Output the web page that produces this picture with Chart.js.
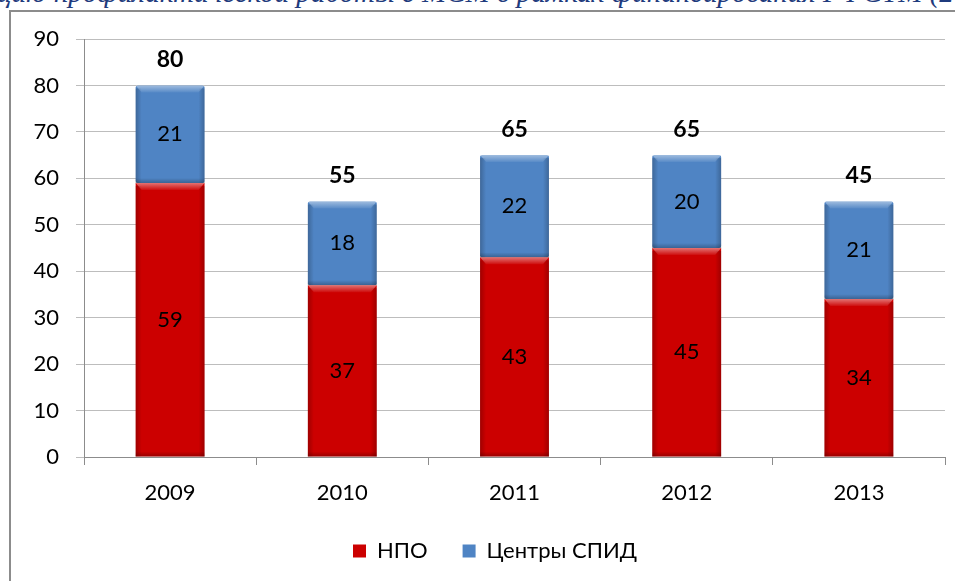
<!DOCTYPE html>
<html>
<head>
<meta charset="utf-8">
<script src="https://cdn.jsdelivr.net/npm/chart.js@4.4.1/dist/chart.umd.min.js"></script>
<style>
  html, body { margin: 0; padding: 0; background: #fff; overflow: hidden; }
  #wrap { position: relative; width: 955px; height: 581px; overflow: hidden; }
  #frame { position: absolute; left: 9px; top: 10px; width: 980px; height: 620px;
           border-left: 2px solid #8c8c8c; border-top: 2px solid #8c8c8c; box-sizing: border-box; }
  #title { position: absolute; left: -3px; top: -22px; white-space: nowrap;
           font-family: "Liberation Serif", "DejaVu Serif", serif; font-style: italic;
           font-size: 29px; line-height: 29px; color: #1f3b7d; }
  canvas { position: absolute; left: 0; top: 0; }
</style>
</head>
<body>
<div id="wrap">
  <div id="frame"></div>
  <div id="title">цию профилактической работы с МСМ в рамках финансирования ГФСТМ (2009–2013 гг.)</div>
  <canvas id="c" width="955" height="581"></canvas>
</div>
<script>
const categories = ['2009', '2010', '2011', '2012', '2013'];
const npoValues = [59, 37, 43, 45, 34];
const aidsCentersValues = [21, 18, 22, 20, 21];
const totalLabels = [80, 55, 65, 65, 45];
const yTicks = [0, 10, 20, 30, 40, 50, 60, 70, 80, 90];

const FONT = 'Lato, "Open Sans", "Noto Sans", sans-serif';

const bevelPlugin = {
  id: 'bevel',
  afterDatasetsDraw(chart) {
    const ctx = chart.ctx;
    ctx.save();
    chart.data.datasets.forEach((ds, di) => {
      const meta = chart.getDatasetMeta(di);
      meta.data.forEach(el => {
        const p = el.getProps(['x', 'y', 'base', 'width'], true);
        const l = p.x - p.width / 2, r = p.x + p.width / 2;
        const t = Math.min(p.y, p.base), b = Math.max(p.y, p.base);
        const h = b - t;
        let g = ctx.createLinearGradient(0, t, 0, t + 7);
        g.addColorStop(0, 'rgba(255,255,255,0.45)');
        g.addColorStop(1, 'rgba(255,255,255,0.05)');
        ctx.fillStyle = g;
        ctx.beginPath();
        ctx.moveTo(l, t); ctx.lineTo(r, t); ctx.lineTo(r - 6, t + 7); ctx.lineTo(l + 6, t + 7);
        ctx.closePath(); ctx.fill();
        g = ctx.createLinearGradient(l, 0, l + 6, 0);
        g.addColorStop(0, 'rgba(0,0,0,0.22)');
        g.addColorStop(1, 'rgba(0,0,0,0)');
        ctx.fillStyle = g;
        ctx.fillRect(l, t + 3, 6, h - 3);
        g = ctx.createLinearGradient(r, 0, r - 6, 0);
        g.addColorStop(0, 'rgba(0,0,0,0.22)');
        g.addColorStop(1, 'rgba(0,0,0,0)');
        ctx.fillStyle = g;
        ctx.fillRect(r - 6, t + 3, 6, h - 3);
        g = ctx.createLinearGradient(0, b, 0, b - 5);
        g.addColorStop(0, 'rgba(0,0,0,0.25)');
        g.addColorStop(1, 'rgba(0,0,0,0)');
        ctx.fillStyle = g;
        ctx.fillRect(l, b - 5, p.width, 5);
      });
    });
    ctx.restore();
  }
};

const labelPlugin = {
  id: 'barLabels',
  afterDatasetsDraw(chart) {
    const ctx = chart.ctx;
    ctx.save();
    ctx.textAlign = 'center';
    ctx.textBaseline = 'middle';
    ctx.fillStyle = '#000';
    chart.data.datasets.forEach((ds, di) => {
      const meta = chart.getDatasetMeta(di);
      ctx.font = '22px ' + FONT;
      meta.data.forEach((el, i) => {
        const p = el.getProps(['x', 'y', 'base'], true);
        ctx.fillText(String(ds.data[i]), p.x, (p.y + p.base) / 2);
      });
    });
    const topMeta = chart.getDatasetMeta(chart.data.datasets.length - 1);
    ctx.font = 'bold 23px ' + FONT;
    topMeta.data.forEach((el, i) => {
      const p = el.getProps(['x', 'y'], true);
      ctx.fillText(String(totalLabels[i]), p.x, p.y - 26);
    });
    ctx.restore();
  }
};

// Centre the legend a little to the right, as in the original layout
const legendShiftPlugin = {
  id: 'legendShift',
  afterLayout(chart) {
    if (chart.legend) { chart.legend.left += 45; }
  }
};

new Chart(document.getElementById('c'), {
  type: 'bar',
  data: {
    labels: categories,
    datasets: [
      { label: 'НПО', data: npoValues, backgroundColor: '#cc0000', borderRadius: 2, borderSkipped: false },
      { label: 'Центры СПИД', data: aidsCentersValues, backgroundColor: '#4f84c4', borderRadius: 2, borderSkipped: false }
    ]
  },
  options: {
    responsive: false,
    devicePixelRatio: 1,
    animation: false,
    layout: { padding: { top: 39, right: 10, left: 0, bottom: 9 } },
    datasets: { bar: { barPercentage: 0.4, categoryPercentage: 1.0 } },
    scales: {
      x: {
        stacked: true,
        offset: true,
        grid: { display: true, drawOnChartArea: false, drawTicks: true, tickLength: 8, color: '#8c8c8c', offset: true },
        border: { color: '#8c8c8c', width: 1 },
        ticks: { font: { size: 22, family: FONT }, color: '#000', padding: 15 },
        afterFit(scale) { scale.height = 48; }
      },
      y: {
        stacked: true,
        min: 0, max: 90,
        afterBuildTicks(scale) { scale.ticks = yTicks.map(v => ({ value: v })); },
        grid: { color: '#bdbdbd', tickLength: 8, lineWidth: 1 },
        border: { color: '#8c8c8c', width: 1 },
        ticks: { font: { size: 22, family: FONT }, color: '#000', padding: 17 },
        afterFit(scale) { scale.width = 84; }
      }
    },
    plugins: {
      legend: {
        position: 'bottom',
        labels: { font: { size: 22, family: FONT }, color: '#000', boxWidth: 13, boxHeight: 13, padding: 35 }
      },
      tooltip: { enabled: false },
      title: { display: false }
    }
  },
  plugins: [bevelPlugin, labelPlugin, legendShiftPlugin]
});
</script>
</body>
</html>
